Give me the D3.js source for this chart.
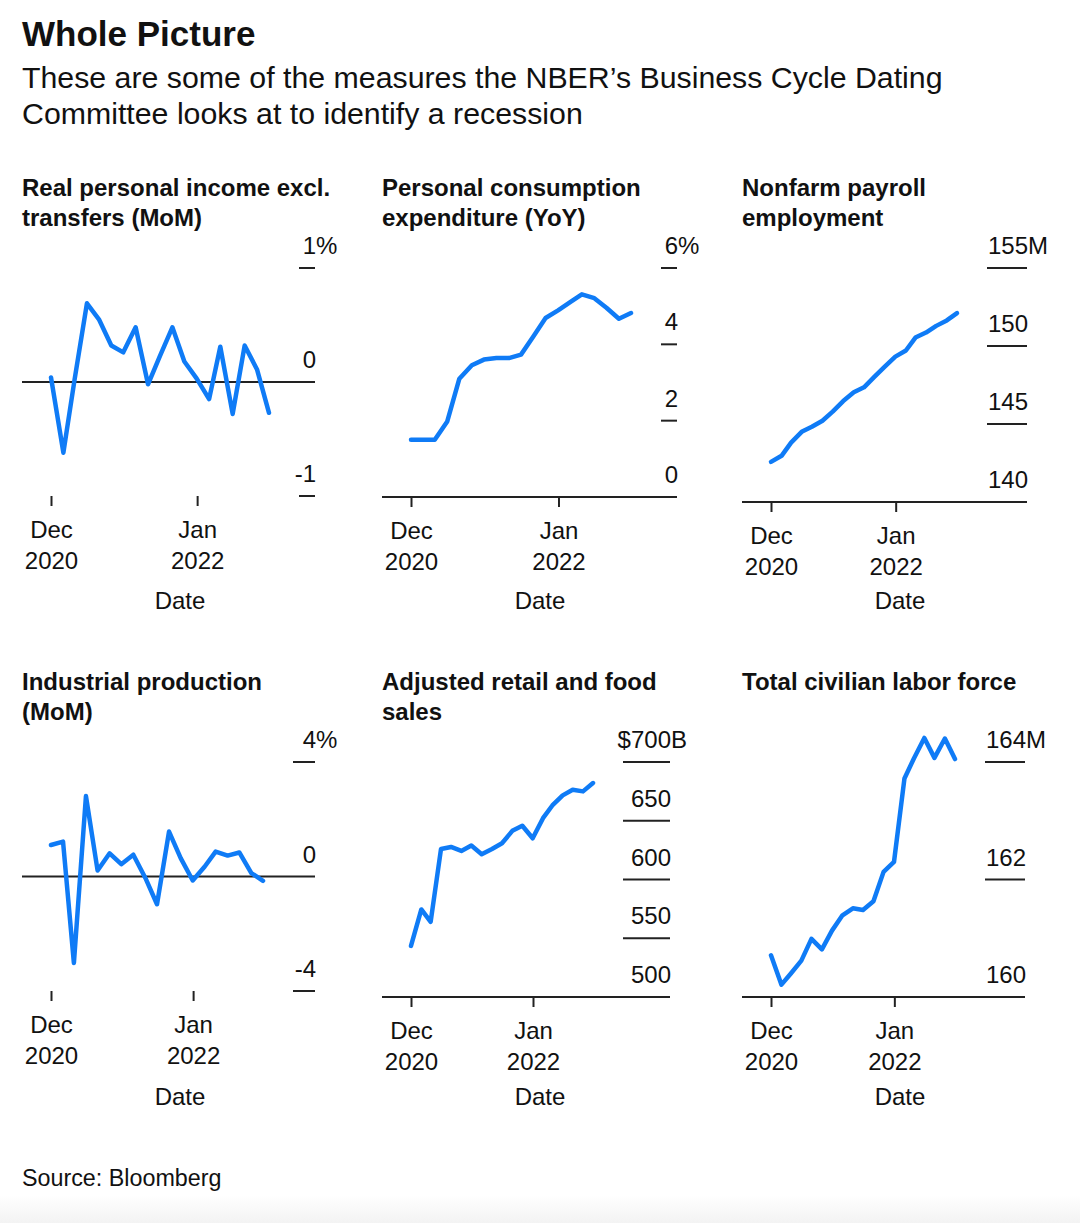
<!DOCTYPE html>
<html><head><meta charset="utf-8">
<script src="https://cdn.jsdelivr.net/npm/d3@7"></script>
<style>
html,body{margin:0;padding:0;background:#fff;}
svg{display:block;font-family:"Liberation Sans",Arial,Helvetica,sans-serif;}
</style></head><body>
<svg id="chart" width="1080" height="1223"></svg>
<script>
// ---------- data ----------
const dates = ["2020-12-31","2021-01-31","2021-02-28","2021-03-31","2021-04-30","2021-05-31","2021-06-30",
  "2021-07-31","2021-08-31","2021-09-30","2021-10-31","2021-11-30","2021-12-31","2022-01-31","2022-02-28",
  "2022-03-31","2022-04-30","2022-05-31","2022-06-30"];
const incomeMoM = [0.04,-0.62,0.02,0.69,0.55,0.32,0.26,0.48,-0.02,0.23,0.48,0.18,0.03,-0.15,0.31,-0.28,0.32,0.11,-0.27];
const pceYoY = [1.50,1.50,1.50,1.98,3.10,3.45,3.60,3.64,3.64,3.73,4.21,4.69,4.89,5.11,5.31,5.21,4.96,4.67,4.82];
const payrolls = [142.57,142.96,143.81,144.50,144.82,145.21,145.79,146.47,147.03,147.35,148.04,148.68,149.32,149.71,150.54,150.86,151.29,151.64,152.11];
const industrialMoM = [1.10,1.22,-3.02,2.81,0.21,0.81,0.43,0.76,-0.05,-0.97,1.57,0.64,-0.14,0.35,0.87,0.73,0.84,0.12,-0.15];
const retailSales = [543.5,574.5,564.0,626.0,627.7,624.3,628.9,621.5,626.0,630.9,641.4,645.7,635.1,652.2,663.0,671.6,676.4,675.0,682.1];
const laborForce = [160.71,160.21,160.40,160.62,160.99,160.81,161.13,161.39,161.51,161.48,161.63,162.13,162.30,163.72,164.06,164.41,164.07,164.40,164.05];

const incomeTicks = [-1,0,1];
const pceTicks = [0,2,4,6];
const payrollTicks = [140,145,150,155];
const industrialTicks = [-4,0,4];
const retailTicks = [500,550,600,650,700];
const laborTicks = [160,162,164];
const xTickDates = ["2020-12-31","2022-01-01"];

const titleText = "Whole Picture";
const subtitleLines = ["These are some of the measures the NBER\u2019s Business Cycle Dating","Committee looks at to identify a recession"];
const sourceText = "Source: Bloomberg";
const xTitle = "Date";

// ---------- layout ----------
const parse = d3.timeParse("%Y-%m-%d");
const dateObjs = dates.map(parse);
const xTicks = xTickDates.map(parse);
const blue = "#0f7bf6";
const ink = "#111";

const panels = [
  {title:["Real personal income excl.","transfers (MoM)"], values:incomeMoM, ticks:incomeTicks, prefix:"", suffix:"%", zero:true,
   left:22, right:315, tickLen:16, top:268, bottom:496, titleY:196, dateY:609},
  {title:["Personal consumption","expenditure (YoY)"], values:pceYoY, ticks:pceTicks, prefix:"", suffix:"%", zero:false,
   left:382, right:677, tickLen:16, top:268, bottom:497, titleY:196, dateY:609},
  {title:["Nonfarm payroll","employment"], values:payrolls, ticks:payrollTicks, prefix:"", suffix:"M", zero:false,
   left:742, right:1027, tickLen:40, top:268, bottom:502, titleY:196, dateY:609},
  {title:["Industrial production","(MoM)"], values:industrialMoM, ticks:industrialTicks, prefix:"", suffix:"%", zero:true,
   left:22, right:315, tickLen:22, top:762, bottom:991, titleY:690, dateY:1105},
  {title:["Adjusted retail and food","sales"], values:retailSales, ticks:retailTicks, prefix:"$", suffix:"B", zero:false,
   left:382, right:670, tickLen:47, top:762, bottom:997, titleY:690, dateY:1105},
  {title:["Total civilian labor force"], values:laborForce, ticks:laborTicks, prefix:"", suffix:"M", zero:false,
   left:742, right:1025, tickLen:40, top:762, bottom:997, titleY:690, dateY:1105}
];

const svg = d3.select("#chart");
svg.append("rect").attr("width",1080).attr("height",1223).attr("fill","#fff");
const defs = svg.append("defs");
const grad = defs.append("linearGradient").attr("id","foot").attr("x1",0).attr("y1",0).attr("x2",0).attr("y2",1);
grad.append("stop").attr("offset","0").attr("stop-color","#fff");
grad.append("stop").attr("offset","1").attr("stop-color","#f3f3f3");
svg.append("rect").attr("x",0).attr("y",1195).attr("width",1080).attr("height",28).attr("fill","url(#foot)");

svg.append("text").attr("x",22).attr("y",46).attr("font-size",35).attr("font-weight",700).attr("fill",ink).text(titleText);
subtitleLines.forEach((t,i)=>svg.append("text").attr("x",22).attr("y",88+i*36).attr("font-size",30.3).attr("fill",ink).text(t));
svg.append("text").attr("x",22).attr("y",1186).attr("font-size",23.3).attr("fill",ink).text(sourceText);

panels.forEach(p=>{
  const g = svg.append("g");
  p.title.forEach((t,i)=>g.append("text").attr("x",p.left).attr("y",p.titleY+i*30)
    .attr("font-size",24).attr("font-weight",700).attr("fill",ink).text(t));

  const tickStart = p.right - p.tickLen;
  const x = d3.scaleTime().domain(d3.extent(dateObjs)).range([p.left+29, tickStart-30]);
  const y = d3.scaleLinear().domain(d3.extent(p.ticks)).range([p.bottom, p.top]);

  // baseline (axis line or zero line)
  const baseY = p.zero ? y(0) : p.bottom;
  g.append("line").attr("x1",p.left).attr("x2",p.right).attr("y1",baseY).attr("y2",baseY)
    .attr("stroke","#222").attr("stroke-width",2);

  // y ticks
  const maxTick = d3.max(p.ticks);
  p.ticks.forEach(v=>{
    const yy = y(v);
    const isBase = (p.zero && v===0) || (!p.zero && v===d3.min(p.ticks));
    if(!isBase){
      g.append("line").attr("x1",tickStart).attr("x2",p.right).attr("y1",yy).attr("y2",yy)
        .attr("stroke","#222").attr("stroke-width",2);
    }
    const num = g.append("text").attr("x",p.right+1).attr("y",yy-14).attr("text-anchor","end")
      .attr("font-size",24).attr("fill",ink).text(String(v));
    if(v===maxTick){
      const w = num.node().getComputedTextLength();
      if(p.suffix) g.append("text").attr("x",p.right+1).attr("y",yy-14).attr("font-size",24).attr("fill",ink).text(p.suffix);
      if(p.prefix) g.append("text").attr("x",p.right+1-w).attr("y",yy-14).attr("text-anchor","end").attr("font-size",24).attr("fill",ink).text(p.prefix);
    }
  });

  // x axis ticks + labels
  const fm = d3.timeFormat("%b"), fy = d3.timeFormat("%Y");
  const ax = g.append("g").attr("transform",`translate(0,${p.bottom})`)
    .call(d3.axisBottom(x).tickValues(xTicks).tickSize(10).tickSizeOuter(0).tickFormat(""));
  ax.select(".domain").remove();
  ax.selectAll(".tick line").attr("stroke","#222").attr("stroke-width",2);
  ax.selectAll(".tick text").each(function(d){
    const t = d3.select(this).attr("y",null).attr("dy",null).attr("fill",ink)
      .attr("font-size",24).attr("font-family",null);
    t.append("tspan").attr("x",0).attr("y",42).text(fm(d));
    t.append("tspan").attr("x",0).attr("y",73).text(fy(d));
  });

  g.append("text").attr("x",p.left+158).attr("y",p.dateY).attr("text-anchor","middle")
    .attr("font-size",24).attr("fill",ink).text(xTitle);

  const line = d3.line().x((d,i)=>x(dateObjs[i])).y(d=>y(d));
  g.append("path").datum(p.values).attr("d",line).attr("fill","none").attr("stroke",blue)
    .attr("stroke-width",4.5).attr("stroke-linejoin","round").attr("stroke-linecap","round");
});
</script>
</body></html>
